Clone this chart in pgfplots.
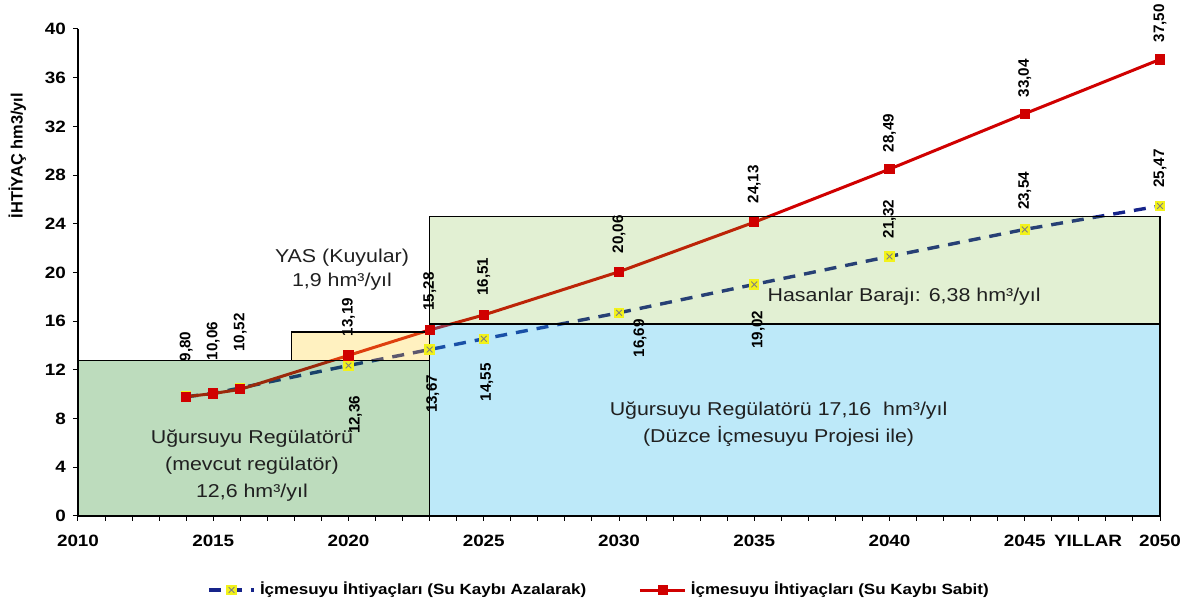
\documentclass[border=0pt]{standalone}
\usepackage{pgfplots}
\pgfplotsset{compat=1.18}
\usepackage{pgfplotstable}
\usepackage{fontspec}
\setmainfont{Liberation Sans}[FakeStretch=1.15]
\newfontfamily\plainsans{Liberation Sans}
\pgfkeys{/pgf/number format/assume math mode=true}

\definecolor{redS}{HTML}{D00000}
\definecolor{blueS}{HTML}{16248A}
\definecolor{yelM}{HTML}{F2F21A}
\definecolor{rectG}{RGB}{35,138,38}
\definecolor{rectY}{RGB}{255,209,48}
\definecolor{rectB}{RGB}{35,182,235}
\definecolor{rectL}{RGB}{110,180,35}
\definecolor{txt}{HTML}{202020}

\pgfdeclareplotmark{yx}{%
  \pgfpathrectangle{\pgfpoint{-\pgfplotmarksize}{-\pgfplotmarksize}}{\pgfpoint{2\pgfplotmarksize}{2\pgfplotmarksize}}%
  \pgfsetfillcolor{yelM}\pgfusepathqfill
  \pgfsetdash{}{0pt}\pgfsetlinewidth{0.45pt}%
  \pgfpathmoveto{\pgfpoint{-0.55\pgfplotmarksize}{-0.55\pgfplotmarksize}}%
  \pgfpathlineto{\pgfpoint{0.55\pgfplotmarksize}{0.55\pgfplotmarksize}}%
  \pgfpathmoveto{\pgfpoint{-0.55\pgfplotmarksize}{0.55\pgfplotmarksize}}%
  \pgfpathlineto{\pgfpoint{0.55\pgfplotmarksize}{-0.55\pgfplotmarksize}}%
  \pgfsetstrokecolor{gray}\pgfusepathqstroke
}

\pgfplotstableread{
x y
2014 9.80
2015 10.06
2016 10.52
2020 12.36
2023 13.67
2025 14.55
2030 16.69
2035 19.02
2040 21.32
2045 23.54
2050 25.47
}\bluedata

\pgfplotstableread{
x y
2014 9.80
2015 10.06
2016 10.40
2020 13.19
2023 15.28
2025 16.51
2030 20.06
2035 24.13
2040 28.49
2045 33.04
2050 37.50
}\reddata

\pgfplotstableread{
x y dx dy
2014 9.80 0 17.5
2015 10.06 0 16.5
2016 10.52 0 18
2020 13.19 0 9.5
2023 15.28 0 9.5
2025 16.51 0 9.5
2030 20.06 0 9
2035 24.13 0 9.3
2040 28.49 0 8.3
2045 33.04 0 8
2050 37.50 0 8.3
}\redlab

\pgfplotstableread{
x y dx dy
2040 21.32 0 9
2045 23.54 0 9.5
2050 25.47 0 9
}\bluelabA

\pgfplotstableread{
x y dx dy
2020 12.36 3.5 -15
2023 13.67 1.5 -12.5
2025 14.55 1.5 -12
2030 16.69 10.5 -3
2035 19.02 2 -13
}\bluelabB

\begin{document}
\begin{tikzpicture}
\useasboundingbox (-39pt,-46pt) rectangle (553.5pt,258pt);
\begin{axis}[
  at={(0,0)}, anchor=south west,
  scale only axis, width=541pt, height=243.5pt,
  xmin=2010, xmax=2050, ymin=0, ymax=40,
  axis x line*=bottom, axis y line*=left,
  xtick={2010,2015,...,2050}, minor x tick num=4,
  ytick={0,4,...,40},
  tick align=outside, major tick length=2.5pt, minor tick length=2.5pt,
  tick style={black, line width=0.5pt},
  axis line style={black, line width=0.6pt},
  clip=false,
  ticklabel style={font=\bfseries\fontsize{8.2}{9}\selectfont},
  xticklabel style={/pgf/number format/1000 sep={}, yshift=-3.5pt},
  ylabel={İHTİYAÇ hm3/yıl},
  ylabel style={font=\plainsans\bfseries\fontsize{8.2}{10}\selectfont, at={(axis description cs:-0.056,0.74)}, anchor=center},
  xlabel={YILLAR},
  xlabel style={font=\bfseries\fontsize{8.2}{9}\selectfont, at={(axis description cs:0.9335,0)}, anchor=base, yshift=-15.5pt},
  legend style={at={(axis description cs:0.4824,-0.152)}, anchor=center, draw=none, fill=none,
    font=\bfseries\fontsize{7.4}{9}\selectfont, legend columns=2,
    /tikz/every even column/.append style={column sep=24pt}},
  legend image code/.code={\draw[mark repeat=2,mark phase=2,#1] plot coordinates {(0cm,0cm) (0.4cm,0cm) (0.8cm,0cm)};},
]
% series
\addplot[blueS, line width=1.7pt, dash pattern=on 6pt off 4.5pt, mark=yx, mark size=2.6pt, mark options={solid}]
  table[x=x,y=y]{\bluedata};
\addlegendentry{İçmesuyu İhtiyaçları (Su Kaybı Azalarak)}
\addplot[redS, line width=1.5pt, mark=square*, mark size=1.8pt, mark options={solid, fill=redS, draw=redS}]
  table[x=x,y=y]{\reddata};
\addlegendentry{İçmesuyu İhtiyaçları (Su Kaybı Sabit)}

% value labels
\addplot[draw=none, mark=none, forget plot, point meta=y,
  visualization depends on={\thisrow{dx} \as \dx},
  visualization depends on={\thisrow{dy} \as \dy},
  nodes near coords={\pgfmathprintnumber[fixed,fixed zerofill,precision=2,use comma]{\pgfplotspointmeta}},
  nodes near coords style={font=\plainsans\bfseries\fontsize{7.6}{9}\selectfont, text=black, inner sep=0pt,
    xshift=\dx pt, yshift=\dy pt, rotate=90, anchor=west}]
  table[x=x,y=y]{\redlab};
\addplot[draw=none, mark=none, forget plot, point meta=y,
  visualization depends on={\thisrow{dx} \as \dx},
  visualization depends on={\thisrow{dy} \as \dy},
  nodes near coords={\pgfmathprintnumber[fixed,fixed zerofill,precision=2,use comma]{\pgfplotspointmeta}},
  nodes near coords style={font=\plainsans\bfseries\fontsize{7.6}{9}\selectfont, text=black, inner sep=0pt,
    xshift=\dx pt, yshift=\dy pt, rotate=90, anchor=west}]
  table[x=x,y=y]{\bluelabA};
\addplot[draw=none, mark=none, forget plot, point meta=y,
  visualization depends on={\thisrow{dx} \as \dx},
  visualization depends on={\thisrow{dy} \as \dy},
  nodes near coords={\pgfmathprintnumber[fixed,fixed zerofill,precision=2,use comma]{\pgfplotspointmeta}},
  nodes near coords style={font=\plainsans\bfseries\fontsize{7.6}{9}\selectfont, text=black, inner sep=0pt,
    xshift=\dx pt, yshift=\dy pt, rotate=90, anchor=east}]
  table[x=x,y=y]{\bluelabB};

% supply areas (semi-transparent, drawn over the lines)
\addplot[forget plot, mark=none, draw=black, line width=0.7pt, fill=rectG, fill opacity=0.3]
  coordinates {(2010,0) (2023,0) (2023,12.79) (2010,12.79) (2010,0)};
\addplot[forget plot, mark=none, draw=black, line width=0.7pt, fill=rectY, fill opacity=0.3]
  coordinates {(2017.9,12.79) (2023,12.79) (2023,15.12) (2017.9,15.12) (2017.9,12.79)};
\addplot[forget plot, mark=none, draw=black, line width=0.7pt, fill=rectB, fill opacity=0.3]
  coordinates {(2023,0) (2050,0) (2050,15.78) (2023,15.78) (2023,0)};
\addplot[forget plot, mark=none, draw=black, line width=0.7pt, fill=rectL, fill opacity=0.2]
  coordinates {(2023,15.78) (2050,15.78) (2050,24.59) (2023,24.59) (2023,15.78)};

% area texts
\node[align=center, text=txt, font=\fontsize{9.3}{13.5}\selectfont] at (axis cs:2016.43,4.15)
  {Uğursuyu Regülatörü\\(mevcut regülatör)\\12,6 hm³/yıl};
\node[align=center, text=txt, font=\fontsize{9.3}{12}\selectfont] at (axis cs:2019.76,20.2)
  {YAS (Kuyular)\\1,9 hm³/yıl};
\node[align=center, text=txt, font=\fontsize{9.3}{12}\selectfont] at (axis cs:2040.54,18.02)
  {Hasanlar Barajı: 6,38 hm³/yıl};
\node[align=center, text=txt, font=\fontsize{9.3}{13.5}\selectfont] at (axis cs:2035.9,7.55)
  {Uğursuyu Regülatörü 17,16\ \ hm³/yıl\\(Düzce İçmesuyu Projesi ile)};
\end{axis}
\end{tikzpicture}
\end{document}
